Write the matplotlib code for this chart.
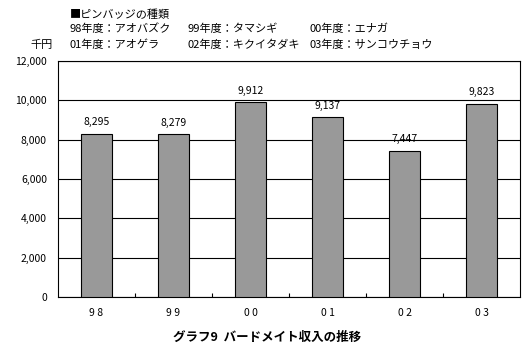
import numpy as np
import matplotlib
import matplotlib.pyplot as plt

matplotlib.use('Agg')
plt.rcParams['font.family'] = ['Noto Sans CJK JP', 'DejaVu Sans']

years = ['98', '99', '00', '01', '02', '03']
income = [8295, 8279, 9912, 9137, 7447, 9823]
badges = [['98年度：アオバズク', '99年度：タマシギ', '00年度：エナガ'],
          ['01年度：アオゲラ', '02年度：キクイタダキ', '03年度：サンコウチョウ']]

fig = plt.figure(figsize=(5.3, 3.52), dpi=100)
ax = fig.add_axes([58 / 530, 1 - 297 / 352, 462 / 530, 236 / 352])

x = np.arange(len(years))
ax.bar(x, income, width=0.39, color='#999999', edgecolor='black', linewidth=0.8, zorder=3)
for xi, v in zip(x, income):
    ax.text(xi, v + 330, f'{v:,}', ha='center', va='bottom', fontsize=7.5)

ax.set_xlim(-0.5, len(years) - 0.5)
ax.set_ylim(0, 12000)
ax.set_yticks(np.arange(0, 12001, 2000))
ax.set_yticklabels([f'{t:,}' for t in range(0, 12001, 2000)], fontsize=7.5)
ax.yaxis.grid(True, color='black', linewidth=0.8, zorder=0)
ax.tick_params(axis='y', length=0, pad=8)

ax.set_xticks(x)
ax.set_xticklabels([' '.join(y) for y in years], fontsize=7.5)
ax.tick_params(axis='x', which='major', length=0, pad=8)
ax.set_xticks(np.arange(0.5, len(years) - 0.5, 1), minor=True)
ax.tick_params(axis='x', which='minor', direction='in', length=3, width=0.8)
for s in ax.spines.values():
    s.set_linewidth(0.8)

fig.text(70 / 530, 1 - 15 / 352, '■ピンバッジの種類', fontsize=8, va='center')
cols = [70, 188, 310]
rows = [29, 45]
for r, row in enumerate(badges):
    for c, txt in enumerate(row):
        fig.text(cols[c] / 530, 1 - rows[r] / 352, txt, fontsize=8, va='center')
fig.text(30 / 530, 1 - 45 / 352, '千円', fontsize=8, va='center')

fig.text(267 / 530, 1 - 337 / 352, 'グラフ9  バードメイト収入の推移', fontsize=9,
         fontweight='bold', ha='center', va='center')

plt.savefig('out.png', dpi=100)
